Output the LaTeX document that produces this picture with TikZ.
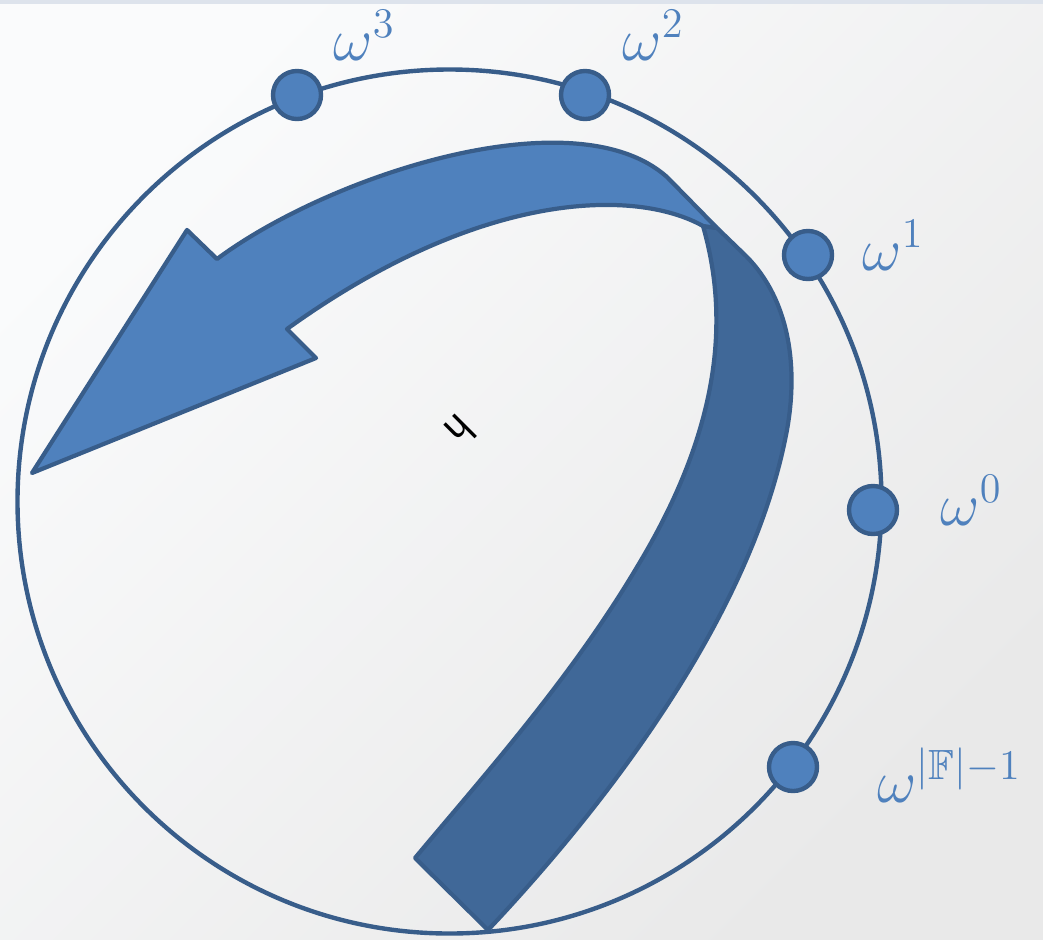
\documentclass[tikz,border=0pt]{standalone}
\usepackage{amssymb}
\definecolor{dotblue}{HTML}{4F81BD}
\definecolor{rimblue}{HTML}{385D8A}
\definecolor{bandblue}{HTML}{406898}
\definecolor{bgtop}{HTML}{FAFBFC}
\definecolor{bgbot}{HTML}{E9E9E9}
\definecolor{stripblue}{HTML}{DDE3EC}

\begin{document}
\begin{tikzpicture}[x=0.01cm,y=-0.01cm,
  dot/.style={circle,draw=rimblue,fill=dotblue,line width=1.25pt,minimum size=0.48cm,inner sep=0pt},
  rootlabel/.style={anchor=base west,inner sep=0pt,text=dotblue,font=\fontsize{17.28}{21}\selectfont},
  band/.style={draw=rimblue,line width=1.2pt,line join=round}]
\useasboundingbox (0,0) rectangle (1043,939);
\shade[top color=bgtop,bottom color=bgbot,shading angle=45] (0,0) rectangle (1043,939);
\fill[stripblue] (0,0) rectangle (1043,4);

\coordinate (o) at (449.5,501.5);
\draw[rimblue,line width=1.25pt] (o) circle (432);

% back side of the twisted band
\filldraw[band,fill=bandblue] (703,226) .. controls (730,320) and (720,430) .. (637,567)
.. controls (570,680) and (480,780) .. (415,858) -- (488,930)
.. controls (620,790) and (750,610) .. (785,440)
.. controls (800,370) and (790,300) .. (746,256) -- (717,228) -- cycle;

% front side with the head
\filldraw[band,fill=dotblue] (32,473) -- (187,230) -- (217,259)
.. controls (330,175) and (575,95) .. (667,177) -- (717,228) -- (703,226)
.. controls (635,188) and (480,190) .. (287,329) -- (316,358) -- cycle;

\node[rotate=-135,font=\sffamily\fontsize{13}{15}\selectfont] (hglyph) at (461,431) {h};

\node[dot] (w3) at (297,95) {};
\node[dot] (w2) at (585,95) {};
\node[dot] (w1) at (808,255) {};
\node[dot] (w0) at (873,510) {};
\node[dot] (wl) at (793,767) {};

\node[rootlabel] (l3) at (333,60) {$\omega^3$};
\node[rootlabel] (l2) at (622,60) {$\omega^2$};
\node[rootlabel] (l1) at (862,270) {$\omega^1$};
\node[rootlabel] (l0) at (940,525) {$\omega^0$};
\node[rootlabel] (ll) at (877,802) {$\omega^{|\mathbb{F}|-1}$};

\end{tikzpicture}
\end{document}
